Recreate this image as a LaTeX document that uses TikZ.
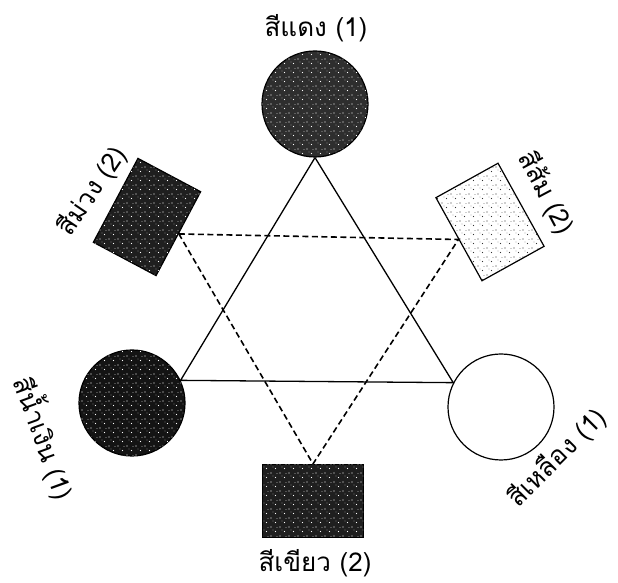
\documentclass[tikz,border=0pt]{standalone}
\usepackage{fontspec}
\newfontfamily\thaifont[Script=Thai]{Loma}
\usetikzlibrary{patterns}

% speckled texture for the printed colour patches
\pgfdeclarepatternformonly{specks}{\pgfqpoint{-1pt}{-1pt}}{\pgfqpoint{10pt}{10pt}}%
  {\pgfqpoint{9pt}{9pt}}{%
  \pgfpathcircle{\pgfqpoint{1pt}{2pt}}{0.7pt}
  \pgfpathcircle{\pgfqpoint{5.5pt}{6.5pt}}{0.6pt}
  \pgfpathcircle{\pgfqpoint{7pt}{1.5pt}}{0.45pt}
  \pgfpathcircle{\pgfqpoint{3pt}{8pt}}{0.4pt}
  \pgfusepath{fill}}

\begin{document}
\begin{tikzpicture}[
    x=1pt, y=1pt,
    font=\thaifont\fontsize{26}{30}\selectfont,
    sihlak/.style={draw, circle, line width=1.2pt, minimum size=106pt,
                   inner sep=0pt},
    sirong/.style={draw, rectangle, line width=1.2pt, minimum width=95pt,
                   minimum height=71pt, inner sep=0pt},
    khem/.style={fill=#1, postaction={pattern=specks, pattern color=white}},
    on/.style={fill=white, postaction={pattern=specks, pattern color=black!80}},
    pai/.style={inner sep=0pt},
    sen/.style={line width=1.3pt},
    senpra/.style={line width=1.6pt, dash pattern=on 6pt off 3.5pt}
  ]
    \useasboundingbox (0,0) rectangle (618,583);
    % primary colours
    \node[sihlak, khem=black!82] (daeng) at (315,479) {};
    \node[sihlak, khem=black!92] (namngoen) at (132,180) {};
    \node[sihlak, fill=white] (lueang) at (501,176) {};
    \node[pai] (daenglbl) at (316,555) {สีแดง (1)};
    \node[pai, rotate=-70] (namngoenlbl) at (45,145) {สีน้ำเงิน (1)};
    \node[pai, rotate=45] (lueanglbl) at (557,125) {สีเหลือง (1)};
    % secondary colours
    \node[sirong, khem=black!88, rotate=62] (muang) at (147,366) {};
    \node[sirong, on, rotate=-61] (som) at (490,361) {};
    \node[sirong, khem=black!88, minimum width=101pt, minimum height=73pt]
      (khiao) at (313,82) {};
    \node[pai, rotate=56] (muanglbl) at (92,392) {สีม่วง (2)};
    \node[pai, rotate=-62] (somlbl) at (546,390) {สีส้ม (2)};
    \node[pai] (khiaolbl) at (315,20) {สีเขียว (2)};
    % triangles
    \draw[sen] (daeng.south) -- (namngoen.25) -- (lueang.153) -- (daeng.south);
    \draw[senpra] (muang.south) -- (som.south) -- (khiao.north)
      -- (muang.south);
  \end{tikzpicture}
\end{document}
